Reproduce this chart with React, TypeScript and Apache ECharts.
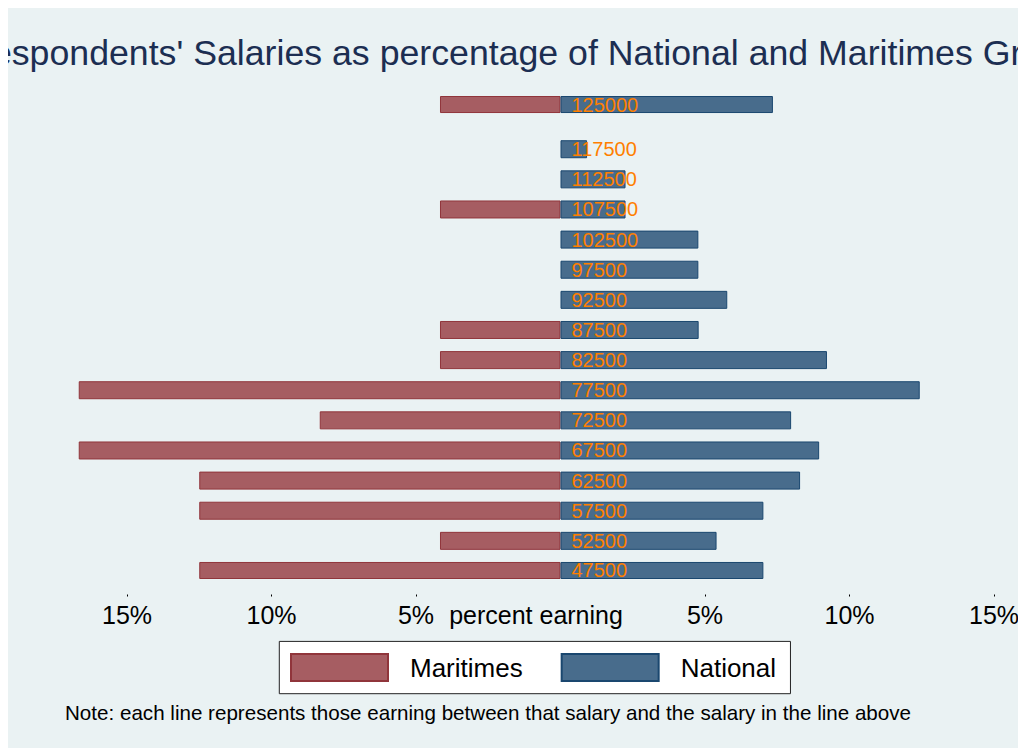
import React, { useEffect, useRef } from "react";
import * as echarts from "echarts";

const salaries = [47500, 52500, 57500, 62500, 67500, 72500, 77500, 82500, 87500, 92500, 97500, 102500, 107500, 112500, 117500, 125000];
const maritimesPct = [12.5, 4.17, 12.5, 12.5, 16.67, 8.33, 16.67, 4.17, 4.17, 0, 0, 0, 4.17, 0, 0, 4.17];
const nationalPct = [7.02, 5.4, 7.02, 8.29, 8.95, 7.98, 12.43, 9.22, 4.78, 5.77, 4.77, 4.77, 2.25, 2.25, 0.92, 7.35];
const tickValues = [-15, -10, -5, 5, 10, 15];
const seriesNames = ["Maritimes", "National"];
const titleText = "Respondents' Salaries as percentage of National and Maritimes Grads";
const xTitle = "percent earning";
const noteText = "Note: each line represents those earning between that salary and the salary in the line above";

const FONT = "'Liberation Sans', Arial, Helvetica, sans-serif";

export default function App() {
  const ref = useRef<HTMLDivElement>(null);
  useEffect(() => {
    const chart = echarts.init(ref.current!, null, { renderer: "svg" });
    const step = 2500;
    const cats: string[] = [];
    for (let v = salaries[0]; v <= salaries[salaries.length - 1]; v += step) cats.push(String(v));
    const pick = (arr: number[], sign: number) =>
      cats.map((c) => {
        const i = salaries.indexOf(Number(c));
        return i >= 0 && arr[i] > 0 ? sign * arr[i] : "-";
      });

    const axisY = 586.5;
    const pxPerPct = 28.9;
    const center = 552.5;
    const xMin = -18;
    const xMax = 16;
    chart.setOption({
      animation: false,
      backgroundColor: "#eaf2f3",
      textStyle: { fontFamily: FONT },
      grid: {
        left: center + xMin * pxPerPct,
        width: (xMax - xMin) * pxPerPct,
        top: 88.5,
        height: 482,
        containLabel: false,
      },
      xAxis: {
        type: "value",
        min: xMin,
        max: xMax,
        offset: 16,
        axisLine: { show: false },
        splitLine: { show: false },
        axisTick: { show: true, customValues: tickValues, length: 2, lineStyle: { color: "#000", width: 1 } },
        axisLabel: {
          customValues: tickValues,
          formatter: (v: number) => Math.abs(v) + "%",
          fontSize: 25,
          color: "#000",
          margin: 8,
          fontFamily: FONT,
        },
      },
      yAxis: {
        type: "category",
        data: cats,
        axisLine: { show: false },
        axisTick: { show: false },
        axisLabel: { show: false },
        splitLine: { show: false },
      },
      legend: {
        data: seriesNames,
        left: 271.3,
        top: 633.4,
        orient: "horizontal",
        icon: "rect",
        itemWidth: 97,
        itemHeight: 27,
        itemGap: 38,
        padding: [11.6, 14.4, 11.7, 10.7],
        backgroundColor: "#ffffff",
        borderColor: "#222222",
        borderWidth: 1,
        borderRadius: 0,
        selectedMode: false,
        textStyle: { fontSize: 26, color: "#000", fontFamily: FONT, padding: [0, 0, 0, 17] },
      },
      series: [
        {
          name: seriesNames[0],
          type: "bar",
          data: pick(maritimesPct, -1),
          barWidth: 18,
          barGap: "-100%",
          itemStyle: { color: "#a65d62", borderColor: "#90353b", borderWidth: 1 },
        },
        {
          name: seriesNames[1],
          type: "bar",
          data: pick(nationalPct, 1),
          barWidth: 18,
          barGap: "-100%",
          itemStyle: { color: "#486c8c", borderColor: "#1a476f", borderWidth: 1 },
          label: {
            show: true,
            position: "insideLeft",
            distance: 11,
            formatter: (p: any) => p.name,
            color: "#ff7f00",
            fontSize: 20,
            fontFamily: FONT,
          },
        },
      ],
      graphic: [
        {
          type: "text",
          x: 515,
          y: 45,
          style: {
            text: titleText,
            fontSize: 35.7,
            fontFamily: FONT,
            fill: "#1c2e52",
            align: "center",
            verticalAlign: "middle",
          },
        },
        {
          type: "text",
          x: 528,
          y: axisY + 8,
          style: {
            text: xTitle,
            fontSize: 25,
            fontFamily: FONT,
            fill: "#000",
            align: "center",
            verticalAlign: "top",
          },
        },
        {
          type: "text",
          x: 57,
          y: 704,
          style: {
            text: noteText,
            fontSize: 20.6,
            fontFamily: FONT,
            fill: "#000",
            align: "left",
            verticalAlign: "middle",
          },
        },
      ],
    });
    return () => chart.dispose();
  }, []);
  return <div ref={ref} style={{ width: 1018, height: 740 }} />;
}
